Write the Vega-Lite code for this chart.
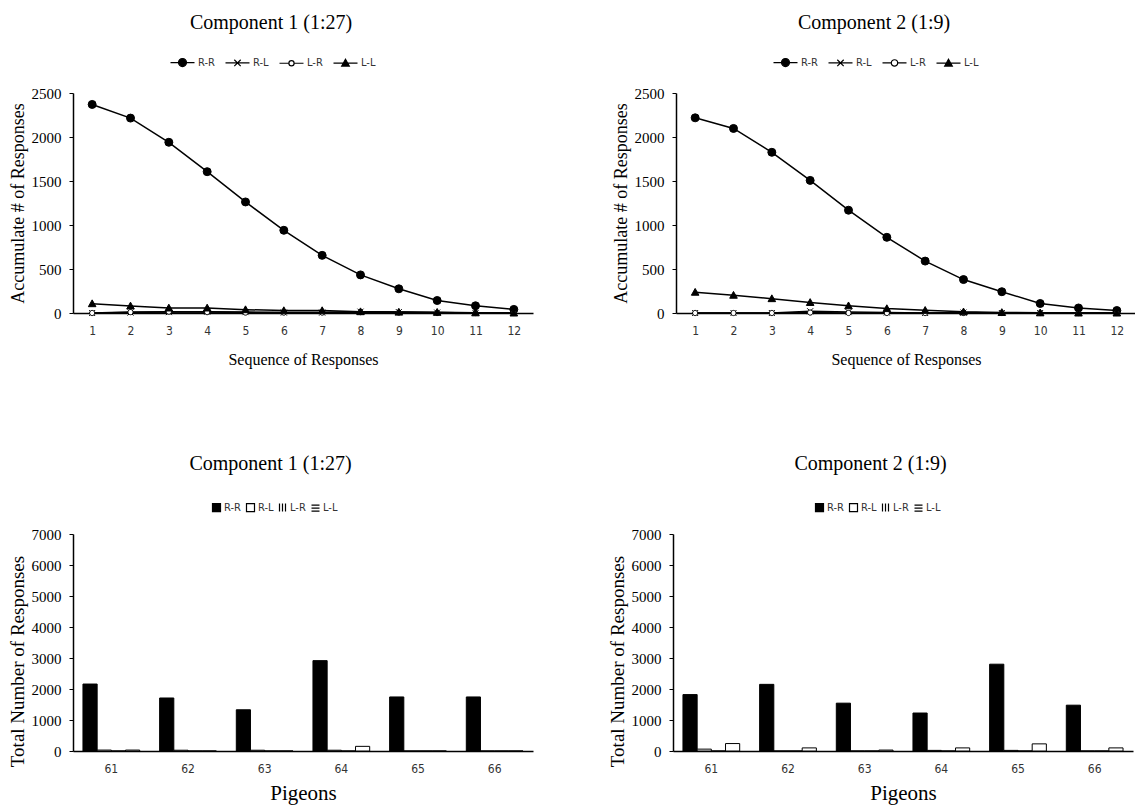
{
  "$schema": "https://vega.github.io/schema/vega-lite/v6.json",
  "background": "white",
  "padding": {"top": 13, "left": 8, "right": 0, "bottom": 2},
  "config": {
    "view": {"stroke": null},
    "title": {"font": "Liberation Serif", "fontSize": 20, "fontWeight": "normal", "color": "black", "offset": 24, "frame": "bounds", "anchor": "middle"},
    "axis": {"grid": false, "domainColor": "black", "domainWidth": 1.5, "tickColor": "black", "labelColor": "black", "titleColor": "black", "titleFontWeight": "normal", "titleFont": "Liberation Serif", "labelFont": "Liberation Serif"},
    "axisY": {"labelFontSize": 15, "titleFontSize": 18, "tickSize": 4, "labelPadding": 8, "format": "d"},
    "axisX": {"ticks": false, "labelAngle": 0, "labelFont": "Liberation Sans Narrow, DejaVu Sans Condensed, Noto Sans", "labelFontSize": 12, "labelColor": "#333", "labelPadding": 12},
    "legend": {"labelFont": "Liberation Sans Narrow, DejaVu Sans Condensed, Noto Sans", "labelFontSize": 11, "labelColor": "#333", "title": null, "direction": "horizontal", "orient": "none"}
  },
  "datasets": {
    "lines": [
      {"comp": 1, "seq": 1, "type": "R-R", "value": 2370}, {"comp": 1, "seq": 2, "type": "R-R", "value": 2215}, {"comp": 1, "seq": 3, "type": "R-R", "value": 1940}, {"comp": 1, "seq": 4, "type": "R-R", "value": 1606}, {"comp": 1, "seq": 5, "type": "R-R", "value": 1262}, {"comp": 1, "seq": 6, "type": "R-R", "value": 940}, {"comp": 1, "seq": 7, "type": "R-R", "value": 655}, {"comp": 1, "seq": 8, "type": "R-R", "value": 433}, {"comp": 1, "seq": 9, "type": "R-R", "value": 275}, {"comp": 1, "seq": 10, "type": "R-R", "value": 142}, {"comp": 1, "seq": 11, "type": "R-R", "value": 82}, {"comp": 1, "seq": 12, "type": "R-R", "value": 41},
      {"comp": 1, "seq": 1, "type": "R-L", "value": 0}, {"comp": 1, "seq": 2, "type": "R-L", "value": 5}, {"comp": 1, "seq": 3, "type": "R-L", "value": 10}, {"comp": 1, "seq": 4, "type": "R-L", "value": 15}, {"comp": 1, "seq": 5, "type": "R-L", "value": 10}, {"comp": 1, "seq": 6, "type": "R-L", "value": 5}, {"comp": 1, "seq": 7, "type": "R-L", "value": 5}, {"comp": 1, "seq": 8, "type": "R-L", "value": 15}, {"comp": 1, "seq": 9, "type": "R-L", "value": 10}, {"comp": 1, "seq": 10, "type": "R-L", "value": 5}, {"comp": 1, "seq": 11, "type": "R-L", "value": 0}, {"comp": 1, "seq": 12, "type": "R-L", "value": 0},
      {"comp": 1, "seq": 1, "type": "L-R", "value": 0}, {"comp": 1, "seq": 2, "type": "L-R", "value": 10}, {"comp": 1, "seq": 3, "type": "L-R", "value": 15}, {"comp": 1, "seq": 4, "type": "L-R", "value": 10}, {"comp": 1, "seq": 5, "type": "L-R", "value": 5}, {"comp": 1, "seq": 6, "type": "L-R", "value": 5}, {"comp": 1, "seq": 7, "type": "L-R", "value": 5}, {"comp": 1, "seq": 8, "type": "L-R", "value": 10}, {"comp": 1, "seq": 9, "type": "L-R", "value": 5}, {"comp": 1, "seq": 10, "type": "L-R", "value": 0}, {"comp": 1, "seq": 11, "type": "L-R", "value": 0}, {"comp": 1, "seq": 12, "type": "L-R", "value": 0},
      {"comp": 1, "seq": 1, "type": "L-L", "value": 106}, {"comp": 1, "seq": 2, "type": "L-L", "value": 80}, {"comp": 1, "seq": 3, "type": "L-L", "value": 57}, {"comp": 1, "seq": 4, "type": "L-L", "value": 57}, {"comp": 1, "seq": 5, "type": "L-L", "value": 38}, {"comp": 1, "seq": 6, "type": "L-L", "value": 27}, {"comp": 1, "seq": 7, "type": "L-L", "value": 27}, {"comp": 1, "seq": 8, "type": "L-L", "value": 15}, {"comp": 1, "seq": 9, "type": "L-L", "value": 10}, {"comp": 1, "seq": 10, "type": "L-L", "value": 8}, {"comp": 1, "seq": 11, "type": "L-L", "value": 2}, {"comp": 1, "seq": 12, "type": "L-L", "value": 0},
      {"comp": 2, "seq": 1, "type": "R-R", "value": 2218}, {"comp": 2, "seq": 2, "type": "R-R", "value": 2097}, {"comp": 2, "seq": 3, "type": "R-R", "value": 1826}, {"comp": 2, "seq": 4, "type": "R-R", "value": 1507}, {"comp": 2, "seq": 5, "type": "R-R", "value": 1168}, {"comp": 2, "seq": 6, "type": "R-R", "value": 860}, {"comp": 2, "seq": 7, "type": "R-R", "value": 590}, {"comp": 2, "seq": 8, "type": "R-R", "value": 380}, {"comp": 2, "seq": 9, "type": "R-R", "value": 242}, {"comp": 2, "seq": 10, "type": "R-R", "value": 108}, {"comp": 2, "seq": 11, "type": "R-R", "value": 57}, {"comp": 2, "seq": 12, "type": "R-R", "value": 28},
      {"comp": 2, "seq": 1, "type": "R-L", "value": 0}, {"comp": 2, "seq": 2, "type": "R-L", "value": 0}, {"comp": 2, "seq": 3, "type": "R-L", "value": 0}, {"comp": 2, "seq": 4, "type": "R-L", "value": 20}, {"comp": 2, "seq": 5, "type": "R-L", "value": 10}, {"comp": 2, "seq": 6, "type": "R-L", "value": 5}, {"comp": 2, "seq": 7, "type": "R-L", "value": 0}, {"comp": 2, "seq": 8, "type": "R-L", "value": 5}, {"comp": 2, "seq": 9, "type": "R-L", "value": 0}, {"comp": 2, "seq": 10, "type": "R-L", "value": 0}, {"comp": 2, "seq": 11, "type": "R-L", "value": 0}, {"comp": 2, "seq": 12, "type": "R-L", "value": 0},
      {"comp": 2, "seq": 1, "type": "L-R", "value": 0}, {"comp": 2, "seq": 2, "type": "L-R", "value": 0}, {"comp": 2, "seq": 3, "type": "L-R", "value": 0}, {"comp": 2, "seq": 4, "type": "L-R", "value": 5}, {"comp": 2, "seq": 5, "type": "L-R", "value": 0}, {"comp": 2, "seq": 6, "type": "L-R", "value": 0}, {"comp": 2, "seq": 7, "type": "L-R", "value": 0}, {"comp": 2, "seq": 8, "type": "L-R", "value": 0}, {"comp": 2, "seq": 9, "type": "L-R", "value": 0}, {"comp": 2, "seq": 10, "type": "L-R", "value": 0}, {"comp": 2, "seq": 11, "type": "L-R", "value": 0}, {"comp": 2, "seq": 12, "type": "L-R", "value": 0},
      {"comp": 2, "seq": 1, "type": "L-L", "value": 236}, {"comp": 2, "seq": 2, "type": "L-L", "value": 202}, {"comp": 2, "seq": 3, "type": "L-L", "value": 163}, {"comp": 2, "seq": 4, "type": "L-L", "value": 120}, {"comp": 2, "seq": 5, "type": "L-L", "value": 82}, {"comp": 2, "seq": 6, "type": "L-L", "value": 50}, {"comp": 2, "seq": 7, "type": "L-L", "value": 30}, {"comp": 2, "seq": 8, "type": "L-L", "value": 13}, {"comp": 2, "seq": 9, "type": "L-L", "value": 6}, {"comp": 2, "seq": 10, "type": "L-L", "value": 2}, {"comp": 2, "seq": 11, "type": "L-L", "value": 0}, {"comp": 2, "seq": 12, "type": "L-L", "value": 0}
    ],
    "bars": [
      {"comp": 1, "pigeon": 61, "type": "R-R", "value": 2160}, {"comp": 1, "pigeon": 62, "type": "R-R", "value": 1710}, {"comp": 1, "pigeon": 63, "type": "R-R", "value": 1330}, {"comp": 1, "pigeon": 64, "type": "R-R", "value": 2915}, {"comp": 1, "pigeon": 65, "type": "R-R", "value": 1743}, {"comp": 1, "pigeon": 66, "type": "R-R", "value": 1743},
      {"comp": 1, "pigeon": 61, "type": "R-L", "value": 30}, {"comp": 1, "pigeon": 62, "type": "R-L", "value": 25}, {"comp": 1, "pigeon": 63, "type": "R-L", "value": 25}, {"comp": 1, "pigeon": 64, "type": "R-L", "value": 25}, {"comp": 1, "pigeon": 65, "type": "R-L", "value": 0}, {"comp": 1, "pigeon": 66, "type": "R-L", "value": 0},
      {"comp": 1, "pigeon": 61, "type": "L-R", "value": 0}, {"comp": 1, "pigeon": 62, "type": "L-R", "value": 0}, {"comp": 1, "pigeon": 63, "type": "L-R", "value": 0}, {"comp": 1, "pigeon": 64, "type": "L-R", "value": 0}, {"comp": 1, "pigeon": 65, "type": "L-R", "value": 0}, {"comp": 1, "pigeon": 66, "type": "L-R", "value": 0},
      {"comp": 1, "pigeon": 61, "type": "L-L", "value": 30}, {"comp": 1, "pigeon": 62, "type": "L-L", "value": 0}, {"comp": 1, "pigeon": 63, "type": "L-L", "value": 0}, {"comp": 1, "pigeon": 64, "type": "L-L", "value": 150}, {"comp": 1, "pigeon": 65, "type": "L-L", "value": 0}, {"comp": 1, "pigeon": 66, "type": "L-L", "value": 0},
      {"comp": 2, "pigeon": 61, "type": "R-R", "value": 1820}, {"comp": 2, "pigeon": 62, "type": "R-R", "value": 2150}, {"comp": 2, "pigeon": 63, "type": "R-R", "value": 1543}, {"comp": 2, "pigeon": 64, "type": "R-R", "value": 1225}, {"comp": 2, "pigeon": 65, "type": "R-R", "value": 2800}, {"comp": 2, "pigeon": 66, "type": "R-R", "value": 1478},
      {"comp": 2, "pigeon": 61, "type": "R-L", "value": 60}, {"comp": 2, "pigeon": 62, "type": "R-L", "value": 0}, {"comp": 2, "pigeon": 63, "type": "R-L", "value": 0}, {"comp": 2, "pigeon": 64, "type": "R-L", "value": 20}, {"comp": 2, "pigeon": 65, "type": "R-L", "value": 20}, {"comp": 2, "pigeon": 66, "type": "R-L", "value": 0},
      {"comp": 2, "pigeon": 61, "type": "L-R", "value": 0}, {"comp": 2, "pigeon": 62, "type": "L-R", "value": 0}, {"comp": 2, "pigeon": 63, "type": "L-R", "value": 0}, {"comp": 2, "pigeon": 64, "type": "L-R", "value": 0}, {"comp": 2, "pigeon": 65, "type": "L-R", "value": 0}, {"comp": 2, "pigeon": 66, "type": "L-R", "value": 0},
      {"comp": 2, "pigeon": 61, "type": "L-L", "value": 240}, {"comp": 2, "pigeon": 62, "type": "L-L", "value": 100}, {"comp": 2, "pigeon": 63, "type": "L-L", "value": 30}, {"comp": 2, "pigeon": 64, "type": "L-L", "value": 100}, {"comp": 2, "pigeon": 65, "type": "L-L", "value": 230}, {"comp": 2, "pigeon": 66, "type": "L-L", "value": 100}
    ]
  },
  "spacing": 87,
  "resolve": {"scale": {"shape": "independent", "fill": "independent"}, "legend": {"shape": "independent", "fill": "independent"}},
  "vconcat": [
    {
      "spacing": 79,
      "resolve": {"scale": {"shape": "independent", "fill": "independent"}, "legend": {"shape": "independent", "fill": "independent"}},
      "hconcat": [
        {
          "width": 460, "height": 220,
          "title": "Component 1 (1:27)",
          "data": {"name": "lines"},
          "transform": [{"filter": "datum.comp === 1"}],
          "encoding": {
            "x": {"field": "seq", "type": "ordinal", "title": "Sequence of Responses", "axis": {"titleFontSize": 16, "titlePadding": 15}},
            "y": {"field": "value", "type": "quantitative", "scale": {"domain": [0, 2500]}, "axis": {"values": [0, 500, 1000, 1500, 2000, 2500], "title": "Accumulate # of Responses"}}
          },
          "layer": [
            {"mark": {"type": "line", "color": "black", "strokeWidth": 1.5}, "encoding": {"detail": {"field": "type"}}},
            {"mark": {"type": "point", "filled": true, "stroke": "black", "strokeWidth": 1, "opacity": 1, "size": 64},
             "encoding": {
               "shape": {"field": "type", "scale": {"domain": ["L-L", "L-R", "R-L", "R-R"], "range": ["M0,-0.95L0.95,0.75L-0.95,0.75Z", "M0.65,0A0.65,0.65 0 1,1 -0.65,0A0.65,0.65 0 1,1 0.65,0Z", "M-0.75,-0.75L0.75,0.75M-0.75,0.75L0.75,-0.75", "circle"]}, "legend": null},
               "fill": {"field": "type", "sort": ["R-R", "R-L", "L-R", "L-L"], "scale": {"domain": ["R-R", "R-L", "L-R", "L-L"], "range": ["black", "black", "white", "black"]},
                 "legend": {"legendX": 96, "legendY": -36, "symbolSize": 64, "labelOffset": 18, "columnPadding": 8,
                   "encoding": {"symbols": {
                     "shape": {"value": {"expr": "datum.value === 'R-R' ? 'M-1,0H5M3,0A1,1 0 1,1 1,0A1,1 0 1,1 3,0Z' : datum.value === 'R-L' ? 'M-1,0H5M1.2,-0.8L2.8,0.8M1.2,0.8L2.8,-0.8' : datum.value === 'L-R' ? 'M-1,0H1.35M2.65,0H5M2.65,0A0.65,0.65 0 1,1 1.35,0A0.65,0.65 0 1,1 2.65,0Z' : 'M-1,0H5M2,-0.95L2.95,0.75L1.05,0.75Z'"}},
                     "stroke": {"value": "black"},
                     "strokeWidth": {"value": 1.2},
                     "size": {"value": 64}
                   }}}}
             }}
          ]
        },
        {
          "width": 460, "height": 220,
          "title": "Component 2 (1:9)",
          "data": {"name": "lines"},
          "transform": [{"filter": "datum.comp === 2"}],
          "encoding": {
            "x": {"field": "seq", "type": "ordinal", "title": "Sequence of Responses", "axis": {"titleFontSize": 16, "titlePadding": 15}},
            "y": {"field": "value", "type": "quantitative", "scale": {"domain": [0, 2500]}, "axis": {"values": [0, 500, 1000, 1500, 2000, 2500], "title": "Accumulate # of Responses"}}
          },
          "layer": [
            {"mark": {"type": "line", "color": "black", "strokeWidth": 1.5}, "encoding": {"detail": {"field": "type"}}},
            {"mark": {"type": "point", "filled": true, "stroke": "black", "strokeWidth": 1, "opacity": 1, "size": 64},
             "encoding": {
               "shape": {"field": "type", "scale": {"domain": ["L-L", "L-R", "R-L", "R-R"], "range": ["M0,-0.95L0.95,0.75L-0.95,0.75Z", "M0.65,0A0.65,0.65 0 1,1 -0.65,0A0.65,0.65 0 1,1 0.65,0Z", "M-0.75,-0.75L0.75,0.75M-0.75,0.75L0.75,-0.75", "circle"]}, "legend": null},
               "fill": {"field": "type", "sort": ["R-R", "R-L", "L-R", "L-L"], "scale": {"domain": ["R-R", "R-L", "L-R", "L-L"], "range": ["black", "black", "white", "black"]},
                 "legend": {"legendX": 96, "legendY": -36, "symbolSize": 64, "labelOffset": 18, "columnPadding": 8,
                   "encoding": {"symbols": {
                     "shape": {"value": {"expr": "datum.value === 'R-R' ? 'M-1,0H5M3,0A1,1 0 1,1 1,0A1,1 0 1,1 3,0Z' : datum.value === 'R-L' ? 'M-1,0H5M1.2,-0.8L2.8,0.8M1.2,0.8L2.8,-0.8' : datum.value === 'L-R' ? 'M-1,0H1.2M2.8,0H5M2.8,0A0.8,0.8 0 1,1 1.2,0A0.8,0.8 0 1,1 2.8,0Z' : 'M-1,0H5M2,-0.95L2.95,0.75L1.05,0.75Z'"}},
                     "stroke": {"value": "black"},
                     "strokeWidth": {"value": 1.2},
                     "size": {"value": 64}
                   }}}}
             }}
          ]
        }
      ]
    },
    {
      "spacing": 75,
      "resolve": {"scale": {"fill": "independent"}, "legend": {"fill": "independent"}},
      "hconcat": [
        {
          "width": 460, "height": 217,
          "title": {"text": "Component 1 (1:27)", "offset": 28},
          "data": {"name": "bars"},
          "transform": [{"filter": "datum.comp === 1"}],
          "mark": {"type": "bar", "stroke": "black", "strokeWidth": 1},
          "encoding": {
            "x": {"field": "pigeon", "type": "ordinal", "title": "Pigeons", "scale": {"paddingInner": 0.26, "paddingOuter": 0.13}, "axis": {"titleFontSize": 21, "titlePadding": 8}},
            "xOffset": {"field": "type", "sort": ["R-R", "R-L", "L-R", "L-L"]},
            "y": {"field": "value", "type": "quantitative", "scale": {"domain": [0, 7000]}, "axis": {"values": [0, 1000, 2000, 3000, 4000, 5000, 6000, 7000], "title": "Total  Number of Responses", "titleFontSize": 19, "titleY": 127}},
            "fill": {"field": "type", "sort": ["R-R", "R-L", "L-R", "L-L"], "scale": {"domain": ["R-R", "R-L", "L-R", "L-L"], "range": ["black", "white", "#888888", "white"]},
              "legend": {"legendX": 138, "legendY": -32, "symbolSize": 64, "labelOffset": 2, "columnPadding": 3,
                "encoding": {"symbols": {
                  "shape": {"value": {"expr": "datum.value === 'L-R' ? 'M-0.75,-1V1M0,-1V1M0.75,-1V1' : datum.value === 'L-L' ? 'M-1,-0.75H1M-1,0H1M-1,0.75H1' : 'square'"}},
                  "stroke": {"value": "black"},
                  "strokeWidth": {"value": 1.2},
                  "size": {"value": 64}
                }}}}
          }
        },
        {
          "width": 460, "height": 217,
          "title": {"text": "Component 2 (1:9)", "offset": 28},
          "data": {"name": "bars"},
          "transform": [{"filter": "datum.comp === 2"}],
          "mark": {"type": "bar", "stroke": "black", "strokeWidth": 1},
          "encoding": {
            "x": {"field": "pigeon", "type": "ordinal", "title": "Pigeons", "scale": {"paddingInner": 0.26, "paddingOuter": 0.13}, "axis": {"titleFontSize": 21, "titlePadding": 8}},
            "xOffset": {"field": "type", "sort": ["R-R", "R-L", "L-R", "L-L"]},
            "y": {"field": "value", "type": "quantitative", "scale": {"domain": [0, 7000]}, "axis": {"values": [0, 1000, 2000, 3000, 4000, 5000, 6000, 7000], "title": "Total  Number of Responses", "titleFontSize": 19, "titleY": 127}},
            "fill": {"field": "type", "sort": ["R-R", "R-L", "L-R", "L-L"], "scale": {"domain": ["R-R", "R-L", "L-R", "L-L"], "range": ["black", "white", "#888888", "white"]},
              "legend": {"legendX": 141, "legendY": -32, "symbolSize": 64, "labelOffset": 2, "columnPadding": 3,
                "encoding": {"symbols": {
                  "shape": {"value": {"expr": "datum.value === 'L-R' ? 'M-0.75,-1V1M0,-1V1M0.75,-1V1' : datum.value === 'L-L' ? 'M-1,-0.75H1M-1,0H1M-1,0.75H1' : 'square'"}},
                  "stroke": {"value": "black"},
                  "strokeWidth": {"value": 1.2},
                  "size": {"value": 64}
                }}}}
          }
        }
      ]
    }
  ]
}
